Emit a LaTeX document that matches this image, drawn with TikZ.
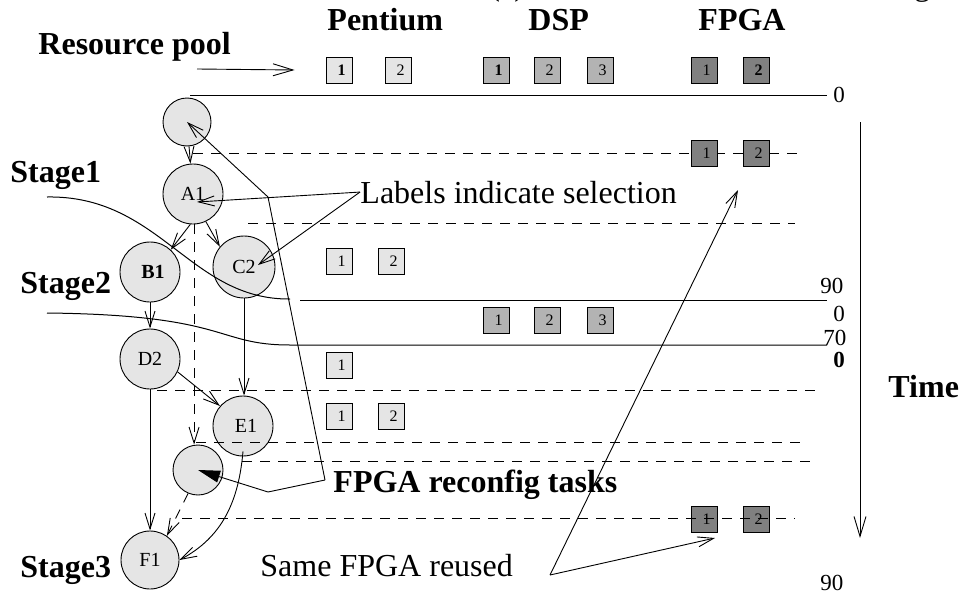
\documentclass[tikz,border=0pt]{standalone}
\usepackage{fontspec}
\setmainfont{Liberation Serif}
\usetikzlibrary{arrows.meta}

\definecolor{nodefill}{HTML}{E5E5E5}
\definecolor{pentfill}{HTML}{E5E5E5}
\definecolor{dspfill}{HTML}{B3B3B3}
\definecolor{fpgafill}{HTML}{808080}

\begin{document}
\begin{tikzpicture}[x=1pt,y=-1pt,line width=0.9pt,
  >={Straight Barb[length=16pt,width=10pt,line width=0.9pt]},
  every node/.style={inner sep=0pt},
  big/.style={font=\fontsize{32}{36}\selectfont},
  bigb/.style={font=\fontsize{32}{36}\selectfont\bfseries},
  tick/.style={font=\fontsize{23}{26}\selectfont},
  task/.style={circle,draw,fill=nodefill,font=\fontsize{20}{22}\selectfont},
  res/.style={draw,minimum size=26pt,font=\fontsize{16}{18}\selectfont},
  pent/.style={res,fill=pentfill},
  dspbox/.style={res,fill=dspfill},
  fpgabox/.style={res,fill=fpgafill},
  slot/.style={dash pattern=on 10pt off 8pt},
  bound/.style={line width=1pt}]

\useasboundingbox (0,0) rectangle (963,594);

% caption fragments from the line above
\begin{scope}
  \clip (0,0) rectangle (963,594);
  \node[big,anchor=base west] (capa) at (489,-4) {(a)};
  \node[big,anchor=base west] (capg) at (914,-4) {g};
\end{scope}

% column headings
\node[bigb,anchor=base west] (hpent) at (327,31) {Pentium};
\node[bigb,anchor=base west] (hdsp) at (528,31) {DSP};
\node[bigb,anchor=base west] (hfpga) at (698,31) {FPGA};
\node[bigb,anchor=base west] (rpool) at (38,55) {Resource pool};

% stage names
\node[bigb,anchor=base west] (st1) at (10,182) {Stage1};
\node[bigb,anchor=base west] (st2) at (20,293) {Stage2};
\node[bigb,anchor=base west] (st3) at (20,577) {Stage3};
\node[bigb,anchor=base west] (tm) at (888,397) {Time};

% time-slot separators
\draw[slot] (193,153) -- (802,153);
\draw[slot] (248,223) -- (795,223);
\draw[slot] (157,390) -- (815,390);
\draw[slot] (242,461) -- (813,461);

% resource pool
\node[pent] (p0a) at (339,70) {\hspace*{5pt}\bfseries 1};
\node[pent] (p0b) at (398,70) {\hspace*{5pt}2};
\node[dspbox] (d0a) at (496,70) {\hspace*{5pt}\bfseries 1};
\node[dspbox] (d0b) at (547,70) {\hspace*{5pt}2};
\node[dspbox] (d0c) at (600,70) {\hspace*{5pt}3};
\node[fpgabox] (f0a) at (704,70) {\hspace*{5pt}1};
\node[fpgabox] (f0b) at (756,70) {\hspace*{5pt}\bfseries 2};

% allocations over time
\node[fpgabox] (f1a) at (704,153) {\hspace*{5pt}1};
\node[fpgabox] (f1b) at (756,153) {\hspace*{5pt}2};
\node[pent] (p1a) at (339,261) {\hspace*{5pt}1};
\node[pent] (p1b) at (391,261) {\hspace*{5pt}2};
\node[dspbox] (d1a) at (496,320) {\hspace*{5pt}1};
\node[dspbox] (d1b) at (547,320) {\hspace*{5pt}2};
\node[dspbox] (d1c) at (600,320) {\hspace*{5pt}3};
\node[pent] (p2a) at (339,365) {\hspace*{5pt}1};
\node[pent] (p3a) at (339,416) {\hspace*{5pt}1};
\node[pent] (p3b) at (391,416) {\hspace*{5pt}2};
\node[fpgabox] (f2a) at (704,519) {\hspace*{5pt}1};
\node[fpgabox] (f2b) at (756,519) {\hspace*{5pt}2};
\draw[slot] (182,518) -- (795,518);

% pool arrow
\coordinate (rpa) at (197,69);
\draw[->,>={Straight Barb[length=20pt,width=12pt]}] (rpa) -- ([xshift=-31pt]p0a.west);

% time axis
\draw[bound] (190,95) -- (827,95);
\node[tick,anchor=base west] (t0) at (833,102) {0};
\node[tick,anchor=base west] (t90a) at (820,293) {90};
\node[tick,anchor=base west] (t0b) at (833,321) {0};
\node[tick,anchor=base west] (t70) at (823,345) {70};
\node[tick,anchor=base west,font=\fontsize{23}{26}\selectfont\bfseries] (t0c) at (833,367) {0};
\node[tick,anchor=base west] (t90b) at (820,590) {90};
\coordinate (tat) at (860,122);
\coordinate (tab) at (860,538);
\draw[->,>={Straight Barb[length=20pt,width=12pt]}] (tat) -- (tab);

% task graph
\node[task,minimum size=48pt] (c0) at (187,122) {};
\node[task,minimum size=60pt] (A1) at (193,194) {A1};
\node[task,minimum size=60pt,font=\fontsize{20}{22}\selectfont\bfseries] (B1) at (150,272) {\hspace*{6pt}B1};
\node[task,minimum size=62pt] (C2) at (244,267) {C2};
\node[task,minimum size=60pt] (D2) at (150,359) {D2};
\node[task,minimum size=60pt] (E1) at (243,426) {\hspace*{6pt}E1};
\node[task,minimum size=50pt] (c1) at (198,470) {};
\node[task,minimum size=58pt] (F1) at (150,560) {F1};

\draw[slot] (196,442) -- (802,442);

\draw[->] (c0) -- (A1);
\draw[->] (A1.265) -- (B1.47);
\draw[->] (A1.295) -- (C2.140);
\draw[->,slot] (A1.272) -- (A1.272 |- c1.north);
\draw[->] (B1) -- (D2);
\draw[->] (C2.south) -- (C2.south |- E1.north);
\draw[->] (D2.-25) -- (E1.139);
\draw[->] (D2) -- (F1);
\draw[->,slot] (c1.-113) -- (F1.55);
\draw[->] ([yshift=5pt]E1.south) to[out=-95,in=28] (F1.east);

% stage boundaries
\draw[bound] (47,197) .. controls (160,195) and (190,300) .. (290,299);
\draw[bound] (300,300) -- (827,300);
\draw[bound] (47,313) .. controls (230,315) and (215,345) .. (290,345) -- (827,345);

% reconfiguration tasks
\node[bigb,anchor=base west] (rc) at (333,492) {FPGA reconfig tasks};
\coordinate (rk) at (325,480);
\coordinate (rk1) at (268,197);
\coordinate (rk2) at (268,492);
\draw[->] (rk) -- (rk1) -- (c0.center);
\draw[-{Triangle[length=22pt,width=12pt]}] (rk) -- (rk2) -- (c1.center);

% selection labels
\node[big,anchor=base west] (lab) at (360,203) {Labels indicate selection};
\draw[->] (lab.west) -- ([shift={(4,8)}]A1.center);
\draw[->] (lab.west) -- ([shift={(14,-2)}]C2.center);

% FPGA reuse
\node[big,anchor=base west] (sf) at (260,576) {Same FPGA reused};
\coordinate (sfa) at (550,575);
\draw[->] (sfa) -- ([shift={(-18,37)}]f1b.center);
\draw[->] (sfa) -- ([shift={(11,19)}]f2a.center);
\end{tikzpicture}
\end{document}
